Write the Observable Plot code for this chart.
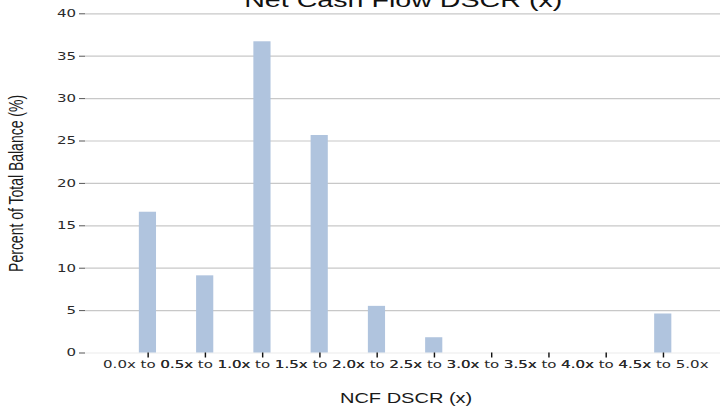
<!DOCTYPE html>
<html>
<head>
<meta charset="utf-8">
<script src="https://cdn.jsdelivr.net/npm/d3@7"></script>
<script src="https://cdn.jsdelivr.net/npm/@observablehq/plot@0.6"></script>
<style>
  html, body { margin: 0; padding: 0; background: #fff; }
  #chart { width: 720px; height: 407px; overflow: hidden; }
</style>
</head>
<body>
<div id="chart"></div>
<script>
const categories = ["0.0x to 0.5x", "0.5x to 1.0x", "1.0x to 1.5x", "1.5x to 2.0x", "2.0x to 2.5x",
                    "2.5x to 3.0x", "3.0x to 3.5x", "3.5x to 4.0x", "4.0x to 4.5x", "4.5x to 5.0x"];
const values = [16.6, 9.1, 36.7, 25.65, 5.5, 1.8, 0, 0, 0, 4.6];
const yTicks = [0, 5, 10, 15, 20, 25, 30, 35, 40];
const titleText = "Net Cash Flow DSCR (x)";
const xLabel = "NCF DSCR (x)";
const yLabel = "Percent of Total Balance (%)";

const data = categories.map((c, i) => ({category: c, value: values[i]}));

// The reference is horizontally stretched; draw in a narrower coordinate system and stretch it.
const W = 503, H = 407, OUTW = 720;
const font = "Liberation Sans, Arial, sans-serif";
const tickFont = "DejaVu Sans, sans-serif";

const plot = Plot.plot({
  width: W,
  height: H,
  marginLeft: 59.4,
  marginRight: 0,
  marginTop: 13.3,
  marginBottom: 54.5,
  style: {fontFamily: font, background: "#fff"},
  x: {domain: categories, paddingInner: 0.704, paddingOuter: 0.882, align: 0.52, label: null},
  y: {domain: [0, 40], label: null},
  marks: [
    Plot.ruleY(yTicks.filter(d => d > 0), {stroke: "#c8c8c8", strokeWidth: 1.2}),
    Plot.ruleY([0], {stroke: "#ececec", strokeWidth: 1.2}),
    Plot.barY(data, {x: "category", y: "value", fill: "#b0c4de"}),
    Plot.axisY({ticks: yTicks, tickSize: 4.2, tickPadding: 2.6, fontSize: 10.5, stroke: "#555", fill: "#2a2a2a", label: null, fontFamily: tickFont}),
    Plot.axisX({tickSize: 5, tickPadding: 2.5, fontSize: 10.5, stroke: "#111", fill: "#2a2a2a", label: null, fontFamily: tickFont}),
    Plot.text([titleText], {text: d => d, frameAnchor: "top", textAnchor: "middle", dy: -6.5, lineAnchor: "bottom", fontSize: 20, fill: "#111", fontFamily: font}),
    Plot.text([xLabel], {text: d => d, frameAnchor: "bottom", textAnchor: "middle", dx: 2, dy: 50, lineAnchor: "bottom", fontSize: 14, fill: "#1a1a1a", fontFamily: font}),
    Plot.text([yLabel], {text: d => d, frameAnchor: "left", textAnchor: "middle", rotate: -90, dx: -43.5, lineAnchor: "bottom", fontSize: 14, fill: "#1a1a1a", fontFamily: font})
  ]
});

plot.setAttribute("width", OUTW);
plot.setAttribute("height", H);
plot.setAttribute("viewBox", `0 0 ${W} ${H}`);
plot.setAttribute("preserveAspectRatio", "none");
plot.style.width = OUTW + "px";
plot.style.height = H + "px";
plot.style.maxWidth = "none";
plot.style.display = "block";
document.getElementById("chart").appendChild(plot);
</script>
</body>
</html>
